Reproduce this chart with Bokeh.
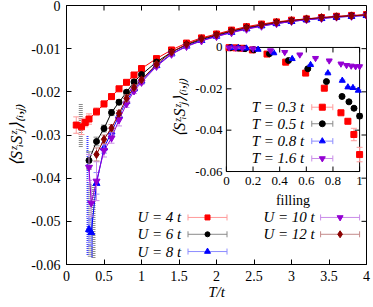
import math
from bokeh.plotting import figure
from bokeh.models import Range1d, FixedTicker
from bokeh.embed import file_html
from bokeh.resources import INLINE
from bokeh.core.properties import value

FONT = "Liberation Serif"

# ---------------- main panel data ----------------
T4 = [0.13, 0.2, 0.25, 0.3, 0.4, 0.5, 0.6, 0.7, 0.8, 0.9, 1.0, 1.2, 1.4, 1.6, 1.8, 2.0, 2.2, 2.4, 2.6, 2.8, 3.0, 3.2, 3.4, 3.6, 3.8, 4.0]
S4 = [-0.0277, -0.0281, -0.0271, -0.0263, -0.0246, -0.0228, -0.0211, -0.0193, -0.0178, -0.0161, -0.0146, -0.0123, -0.0103, -0.0087, -0.0075, -0.0066, -0.0057, -0.0049, -0.0043, -0.0038, -0.0034, -0.0031, -0.0028, -0.0025, -0.0023, -0.0021]
E4 = [0.0019, 0.0018, 0.0010, 0.0012, 0.0009, 0.0007, 0.0006, 0.0005, 0.0004, 0.0004, 0.0003, 0.0003, 0.0002, 0.0002, 0.0002, 0.0002, 0.0001, 0.0001, 0.0001, 0.0001, 0.0001, 0.0001, 0.0001, 0.0001, 0.0001, 0.0001]

T6 = [0.3, 0.4, 0.5, 0.6, 0.7, 0.8, 0.9, 1.0, 1.2, 1.4, 1.6, 1.8, 2.0, 2.2, 2.4, 2.6, 2.8, 3.0, 3.2, 3.4, 3.6, 3.8, 4.0]
S6 = [-0.0359, -0.0315, -0.0285, -0.0248, -0.0224, -0.0201, -0.0177, -0.0160, -0.0131, -0.0108, -0.0091, -0.0079, -0.0069, -0.0060, -0.0052, -0.0046, -0.0040, -0.0036, -0.0032, -0.0029, -0.0026, -0.0024, -0.0022]
E6 = [0.0020, 0.0010, 0.0008, 0.0007, 0.0006, 0.0005, 0.0005, 0.0004, 0.0003, 0.0002, 0.0002, 0.0002, 0.0002, 0.0001, 0.0001, 0.0001, 0.0001, 0.0001, 0.0001, 0.0001, 0.0001, 0.0001, 0.0001]

T8 = [0.3, 0.33, 0.4, 0.5, 0.6, 0.7, 0.8, 0.9, 1.0, 1.2, 1.4, 1.6, 1.8, 2.0, 2.2, 2.4, 2.6, 2.8, 3.0, 3.2, 3.4, 3.6, 3.8, 4.0]
S8 = [-0.0519, -0.0526, -0.0412, -0.0330, -0.0293, -0.0255, -0.0222, -0.0193, -0.0175, -0.0139, -0.0112, -0.0094, -0.0081, -0.0071, -0.0062, -0.0054, -0.0047, -0.0042, -0.0037, -0.0033, -0.0030, -0.0027, -0.0025, -0.0023]
E8 = [0.0030, 0.0030, 0.0025, 0.0012, 0.0008, 0.0007, 0.0006, 0.0005, 0.0004, 0.0003, 0.0002, 0.0002, 0.0002, 0.0002, 0.0001, 0.0001, 0.0001, 0.0001, 0.0001, 0.0001, 0.0001, 0.0001, 0.0001, 0.0001]

T10 = [0.3, 0.33, 0.4, 0.5, 0.6, 0.7, 0.8, 0.9, 1.0, 1.2, 1.4, 1.6, 1.8, 2.0, 2.2, 2.4, 2.6, 2.8, 3.0, 3.2, 3.4, 3.6, 3.8, 4.0]
S10 = [-0.0375, -0.0458, -0.0407, -0.0336, -0.0307, -0.0265, -0.0228, -0.0198, -0.0178, -0.0141, -0.0113, -0.0095, -0.0082, -0.0072, -0.0063, -0.0055, -0.0048, -0.0042, -0.0037, -0.0033, -0.0030, -0.0027, -0.0025, -0.0023]
E10 = [0.0030, 0.0030, 0.0045, 0.0015, 0.0012, 0.0014, 0.0008, 0.0006, 0.0005, 0.0004, 0.0003, 0.0002, 0.0002, 0.0002, 0.0001, 0.0001, 0.0001, 0.0001, 0.0001, 0.0001, 0.0001, 0.0001, 0.0001, 0.0001]

T12 = [0.4, 0.5, 0.6, 0.7, 0.8, 0.9, 1.0, 1.2, 1.4, 1.6, 1.8, 2.0, 2.2, 2.4, 2.6, 2.8, 3.0, 3.2, 3.4, 3.6, 3.8, 4.0]
S12 = [-0.0345, -0.0310, -0.0284, -0.0250, -0.0215, -0.0190, -0.0172, -0.0136, -0.0108, -0.0090, -0.0077, -0.0068, -0.0059, -0.0051, -0.0045, -0.0039, -0.0035, -0.0031, -0.0028, -0.0026, -0.0024, -0.0022]
E12 = [0.0015, 0.0010, 0.0008, 0.0007, 0.0008, 0.0006, 0.0005, 0.0004, 0.0003, 0.0002, 0.0002, 0.0002, 0.0001, 0.0001, 0.0001, 0.0001, 0.0001, 0.0001, 0.0001, 0.0001, 0.0001, 0.0001]

# large-uncertainty dotted bars at low T
DOT_T = [0.19, 0.31, 0.36, 0.28, 0.34]
DOT_LO = [-0.0328, -0.0582, -0.0585, -0.0578, -0.0583]
DOT_HI = [-0.0227, -0.0410, -0.0415, -0.0300, -0.0485]
DOT_COLOR = ["#8c8c8c", "#8c8c8c", "#8c8c8c", "#3c3cff", "#3c3cff"]

U_LABELS = ["U = 4 t", "U = 6 t", "U = 8 t", "U = 10 t", "U = 12 t"]

X_TICKS = [0, 0.5, 1, 1.5, 2, 2.5, 3, 3.5, 4]
X_TICK_LABELS = ["0", "0.5", "1", "1.5", "2", "2.5", "3", "3.5", "4"]
Y_TICKS = [-0.06, -0.05, -0.04, -0.03, -0.02, -0.01, 0]
Y_TICK_LABELS = ["-0.06", "-0.05", "-0.04", "-0.03", "-0.02", "-0.01", "0"]

# ---------------- inset data ----------------
F3 = [0.02, 0.07, 0.12, 0.195, 0.305, 0.445, 0.595, 0.735, 0.86, 0.912, 0.957, 1.0]
V3 = [-0.0001, -0.0002, -0.0004, -0.0012, -0.0032, -0.0071, -0.0124, -0.0197, -0.0316, -0.0357, -0.0421, -0.0518]
W3 = [0.0001, 0.0001, 0.0001, 0.0002, 0.0002, 0.0003, 0.0004, 0.0005, 0.0008, 0.0010, 0.0030, 0.0035]

F5 = [0.03, 0.09, 0.14, 0.205, 0.323, 0.466, 0.611, 0.751, 0.868, 0.92, 0.958, 1.0]
V5 = [-0.0001, -0.0003, -0.0006, -0.0011, -0.0030, -0.0063, -0.0103, -0.0165, -0.0237, -0.0263, -0.0294, -0.0332]
W5 = [0.0001, 0.0001, 0.0001, 0.0001, 0.0002, 0.0002, 0.0003, 0.0004, 0.0005, 0.0006, 0.0008, 0.0012]

F8 = [0.04, 0.09, 0.15, 0.238, 0.356, 0.494, 0.632, 0.762, 0.87, 0.912, 0.95, 0.99]
V8 = [-0.0001, -0.0002, -0.0004, -0.0010, -0.0027, -0.0055, -0.0084, -0.0124, -0.0160, -0.0192, -0.0195, -0.0208]
W8 = [0.0001, 0.0001, 0.0001, 0.0001, 0.0001, 0.0002, 0.0002, 0.0003, 0.0003, 0.0003, 0.0004, 0.0004]

F16 = [0.02, 0.07, 0.12, 0.2, 0.331, 0.438, 0.551, 0.669, 0.772, 0.86, 0.902, 0.937, 0.97, 1.0]
V16 = [-0.0001, -0.0002, -0.0003, -0.0006, -0.0015, -0.0023, -0.0035, -0.0052, -0.0064, -0.0079, -0.0086, -0.0089, -0.0092, -0.0092]
W16 = [0.0001, 0.0001, 0.0001, 0.0001, 0.0001, 0.0001, 0.0001, 0.0002, 0.0002, 0.0002, 0.0002, 0.0002, 0.0002, 0.0002]

T_LABELS = ["T = 0.3 t", "T = 0.5 t", "T = 0.8 t", "T = 1.6 t"]
IX_TICKS = [0, 0.2, 0.4, 0.6, 0.8, 1]
IX_TICK_LABELS = ["0", "0.2", "0.4", "0.6", "0.8", "1"]
IY_TICKS = [0, -0.02, -0.04, -0.06]
IY_TICK_LABELS = ["0", "-0.02", "-0.04", "-0.06"]

YLABEL = "\u27e8S\u1dbb\u1d62S\u1dbb\u2c7c\u27e9\u208d\u1d62,\u2c7c\u208e"
XLABEL = "T/t"

# ---------------- styles ----------------
main_series = [
    (T4, S4, E4, "#ff0000", "#ff9a9a", "square", 6),
    (T6, S6, E6, "#000000", "#8a8a8a", "circle", 6),
    (T8, S8, E8, "#0000ff", "#8c8cff", "triangle", 7),
    (T10, S10, E10, "#9400d3", "#c98ce8", "inverted_triangle", 7),
    (T12, S12, E12, "#8b0000", "#c48a8a", "diamond", 8),
]
inset_series = [
    (F3, V3, W3, "#ff0000", "#ff9a9a", "square", 6),
    (F5, V5, W5, "#000000", "#8a8a8a", "circle", 6),
    (F8, V8, W8, "#0000ff", "#8c8cff", "triangle", 6),
    (F16, V16, W16, "#9400d3", "#c98ce8", "inverted_triangle", 6),
]

X0, X1 = 0.0, 4.0
Y0, Y1 = -0.06, 0.0

p = figure(width=373, height=307, x_range=Range1d(X0, X1), y_range=Range1d(Y0, Y1),
           output_backend="svg", toolbar_location=None, title=None,
           min_border_left=66, min_border_right=7, min_border_top=5, min_border_bottom=43)
p.background_fill_color = "white"
p.border_fill_color = "white"
p.outline_line_color = "black"
p.outline_line_width = 1
p.xgrid.visible = False
p.ygrid.visible = False

p.xaxis.ticker = FixedTicker(ticks=X_TICKS)
p.yaxis.ticker = FixedTicker(ticks=Y_TICKS)
p.xaxis.major_label_overrides = {float(k): v for k, v in zip(X_TICKS, X_TICK_LABELS)}
p.yaxis.major_label_overrides = {float(k): v for k, v in zip(Y_TICKS, Y_TICK_LABELS)}
for ax in (p.xaxis[0], p.yaxis[0]):
    ax.major_tick_in = 5
    ax.major_tick_out = 0
    ax.minor_tick_line_color = None
    ax.axis_line_color = "black"
    ax.major_tick_line_color = "black"
    ax.major_label_text_font = FONT
    ax.major_label_text_font_size = "14px"
    ax.major_label_text_color = "black"
    ax.axis_label_text_font = FONT
    ax.axis_label_text_font_style = "italic"
    ax.axis_label_text_color = "black"
p.xaxis.axis_label_text_font_size = "15px"
p.yaxis.axis_label_text_font_size = "17px"
p.xaxis.major_label_standoff = 6
p.yaxis.major_label_standoff = 6
p.xaxis.axis_label = XLABEL
p.xaxis.axis_label_standoff = 0
p.yaxis.axis_label = YLABEL
p.yaxis.axis_label_standoff = 2

# mirrored inward ticks on top and right
p.ray(x=X_TICKS, y=[Y1] * len(X_TICKS), length=5, length_units="screen",
      angle=-math.pi / 2, line_color="black")
p.ray(x=[X1] * len(Y_TICKS), y=Y_TICKS, length=5, length_units="screen",
      angle=math.pi, line_color="black")

# dotted bars
for xv, lo, hi, c in zip(DOT_T, DOT_LO, DOT_HI, DOT_COLOR):
    p.segment(x0=[xv], y0=[lo], x1=[xv], y1=[hi], line_color=c,
              line_width=4 if c == "#8c8c8c" else 2, line_dash="1 1")

# main series
for T, S, E, c, ec, mk, sz in main_series:
    lo = [s - e for s, e in zip(S, E)]
    hi = [s + e for s, e in zip(S, E)]
    p.segment(x0=T, y0=lo, x1=T, y1=hi, line_color=ec, line_width=1)
    p.scatter(x=T + T, y=lo + hi, marker="dash", size=6, line_color=ec, line_width=1)
    p.line(x=T, y=S, line_color=c, line_width=1)
    p.scatter(x=T, y=S, marker=mk, size=sz, fill_color=c, line_color=c)

# main legend (label left, sample right), in data units
LEG_ROWS = [-0.0491, -0.0530, -0.0570, -0.0491, -0.0530]
LEG_TX = [1.53, 1.53, 1.53, 3.31, 3.31]
LEG_CX = [1.88, 1.88, 1.88, 3.648, 3.648]
LEG_HW = 0.26
for (T, S, E, c, ec, mk, sz), lab, ry, tx, cx in zip(main_series, U_LABELS, LEG_ROWS, LEG_TX, LEG_CX):
    p.segment(x0=[cx - LEG_HW], y0=[ry], x1=[cx + LEG_HW], y1=[ry], line_color=ec, line_width=1)
    p.scatter(x=[cx - LEG_HW, cx + LEG_HW], y=[ry, ry], marker="dash", angle=math.pi / 2,
              size=6, line_color=ec)
    p.scatter(x=[cx], y=[ry], marker=mk, size=sz - 1, fill_color=c, line_color=c)
    p.text(x=[tx], y=[ry], text=[lab], text_font=value(FONT), text_font_size="15px",
           text_font_style="italic", text_align="right", text_baseline="middle",
           text_color="black")

# ---------------- inset via extra ranges ----------------
BOX_L, BOX_R, BOX_T, BOX_B = 0.533, 0.977, 0.162, 0.641
ix_lo = X0 + (X1 - X0) * BOX_L
ix_hi = X0 + (X1 - X0) * BOX_R
iy_top = Y1 - (Y1 - Y0) * BOX_T
iy_bot = Y1 - (Y1 - Y0) * BOX_B
IV0, IV1 = -0.06, 0.0
fx = lambda x: (x - ix_lo) / (ix_hi - ix_lo)
fy = lambda y: IV0 + (y - iy_bot) / (iy_top - iy_bot) * (IV1 - IV0)
p.extra_x_ranges = {"inset": Range1d(fx(X0), fx(X1))}
p.extra_y_ranges = {"inset": Range1d(fy(Y0), fy(Y1))}
R = dict(x_range_name="inset", y_range_name="inset")

p.quad(left=[0], right=[1], bottom=[IV0], top=[IV1], fill_color="white",
       line_color="black", line_width=1, **R)
# inset ticks (inward, mirrored)
p.ray(x=IX_TICKS, y=[IV0] * len(IX_TICKS), length=5, length_units="screen",
      angle=math.pi / 2, line_color="black", **R)
p.ray(x=IX_TICKS, y=[IV1] * len(IX_TICKS), length=5, length_units="screen",
      angle=-math.pi / 2, line_color="black", **R)
p.ray(x=[0] * len(IY_TICKS), y=IY_TICKS, length=5, length_units="screen",
      angle=0, line_color="black", **R)
p.ray(x=[1] * len(IY_TICKS), y=IY_TICKS, length=5, length_units="screen",
      angle=math.pi, line_color="black", **R)
p.text(x=IX_TICKS, y=[IV0] * len(IX_TICKS), text=IX_TICK_LABELS, y_offset=5,
       text_font=value(FONT), text_font_size="13px", text_align="center",
       text_baseline="top", text_color="black", **R)
p.text(x=[0] * len(IY_TICKS), y=IY_TICKS, text=IY_TICK_LABELS, x_offset=-4,
       text_font=value(FONT), text_font_size="13px", text_align="right",
       text_baseline="middle", text_color="black", **R)
p.text(x=[0.5], y=[IV0], text=["filling"], y_offset=21, text_font=value(FONT),
       text_font_size="14px", text_align="center", text_baseline="top",
       text_color="black", **R)
p.text(x=[-0.35], y=[-0.029], text=[YLABEL], angle=math.pi / 2, text_font=value(FONT),
       text_font_size="16px", text_font_style="italic", text_align="center",
       text_baseline="middle", text_color="black", **R)

for F, V, W, c, ec, mk, sz in inset_series:
    lo = [v - w for v, w in zip(V, W)]
    hi = [v + w for v, w in zip(V, W)]
    p.segment(x0=F, y0=lo, x1=F, y1=hi, line_color=ec, line_width=1, **R)
    p.scatter(x=F + F, y=lo + hi, marker="dash", size=6, line_color=ec, **R)
    p.scatter(x=F, y=V, marker=mk, size=sz, fill_color=c, line_color=c, **R)

ILEG_ROWS = [-0.0289, -0.0369, -0.0453, -0.0537]
ILEG_TX = 0.586
ILEG_CX = 0.72
ILEG_HW = 0.079
for (F, V, W, c, ec, mk, sz), lab, ry in zip(inset_series, T_LABELS, ILEG_ROWS):
    p.segment(x0=[ILEG_CX - ILEG_HW], y0=[ry], x1=[ILEG_CX + ILEG_HW], y1=[ry],
              line_color=ec, line_width=1, **R)
    p.scatter(x=[ILEG_CX - ILEG_HW, ILEG_CX + ILEG_HW], y=[ry, ry], marker="dash",
              angle=math.pi / 2, size=6, line_color=ec, **R)
    p.scatter(x=[ILEG_CX], y=[ry], marker=mk, size=sz, fill_color=c, line_color=c, **R)
    p.text(x=[ILEG_TX], y=[ry], text=[lab], text_font=value(FONT), text_font_size="15px",
           text_font_style="italic", text_align="right", text_baseline="middle",
           text_color="black", **R)

open("out.html", "w").write(file_html(p, INLINE))
